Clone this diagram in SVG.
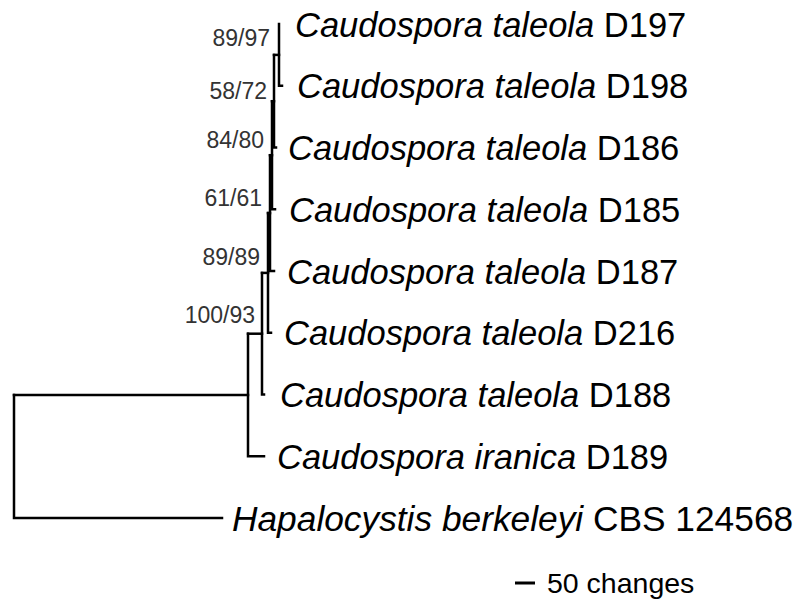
<svg xmlns="http://www.w3.org/2000/svg" width="800" height="612" viewBox="0 0 800 612">
<style>
.br{fill:none;stroke:#000;stroke-width:2.5;stroke-linecap:square}
.tx{font-family:"Liberation Sans",Arial,sans-serif;font-size:34.5px;fill:#000}
.it{font-style:italic}
.bs{font-family:"Liberation Sans",Arial,sans-serif;font-size:23px;fill:#333;text-anchor:end}
.sc{font-family:"Liberation Sans",Arial,sans-serif;font-size:28.5px;fill:#000}
</style>
<rect width="800" height="612" fill="#fff"/>
<g id="connectors">
<path class="br" d="M14 395 V518 H222"/>
<path class="br" d="M14 395 H248"/>
<path class="br" d="M248 333.7 V456.2 H264"/>
<path class="br" d="M248 333.7 H262"/>
<path class="br" d="M262 272.9 V394.5 H264"/>
<path class="br" d="M262 272.9 H268"/>
<path class="br" d="M268 213.1 V332.7 H271"/>
<path class="br" d="M268 213.1 H270"/>
<path class="br" d="M270 155.2 V271 H274"/>
<path class="br" d="M270 155.2 H272"/>
<path class="br" d="M272 101.2 V209.2 H275"/>
<path class="br" d="M272 101.2 H274"/>
<path class="br" d="M274 54.9 V147.5 H276"/>
<path class="br" d="M274 54.9 H279"/>
<path class="br" d="M279 24 V85.7 H282"/>
</g>
<g id="taxon-D197"><text class="tx" x="295" y="36.5"><tspan class="it">Caudospora taleola</tspan> D197</text></g>
<g id="taxon-D198"><text class="tx" x="297" y="98.2"><tspan class="it">Caudospora taleola</tspan> D198</text></g>
<g id="taxon-D186"><text class="tx" x="288" y="160"><tspan class="it">Caudospora taleola</tspan> D186</text></g>
<g id="taxon-D185"><text class="tx" x="289" y="221.7"><tspan class="it">Caudospora taleola</tspan> D185</text></g>
<g id="taxon-D187"><text class="tx" x="287" y="283.5"><tspan class="it">Caudospora taleola</tspan> D187</text></g>
<g id="taxon-D216"><text class="tx" x="284" y="345.2"><tspan class="it">Caudospora taleola</tspan> D216</text></g>
<g id="taxon-D188"><text class="tx" x="280" y="407"><tspan class="it">Caudospora taleola</tspan> D188</text></g>
<g id="taxon-D189"><text class="tx" x="277" y="468.7"><tspan class="it">Caudospora iranica</tspan> D189</text></g>
<g id="taxon-CBS124568"><text class="tx" x="232" y="530.5" style="font-size:35.3px"><tspan class="it">Hapalocystis berkeleyi</tspan> CBS 124568</text></g>
<g id="support-n1"><text class="bs" x="270" y="46">89/97</text></g>
<g id="support-n2"><text class="bs" x="267" y="99">58/72</text></g>
<g id="support-n3"><text class="bs" x="264" y="148">84/80</text></g>
<g id="support-n4"><text class="bs" x="262" y="206">61/61</text></g>
<g id="support-n5"><text class="bs" x="260" y="265">89/89</text></g>
<g id="support-n6"><text class="bs" x="255" y="323">100/93</text></g>
<g id="scale-bar">
<line x1="515" y1="583" x2="535" y2="583" stroke="#000" stroke-width="3"/>
<text class="sc" x="547" y="593">50 changes</text>
</g>
</svg>
